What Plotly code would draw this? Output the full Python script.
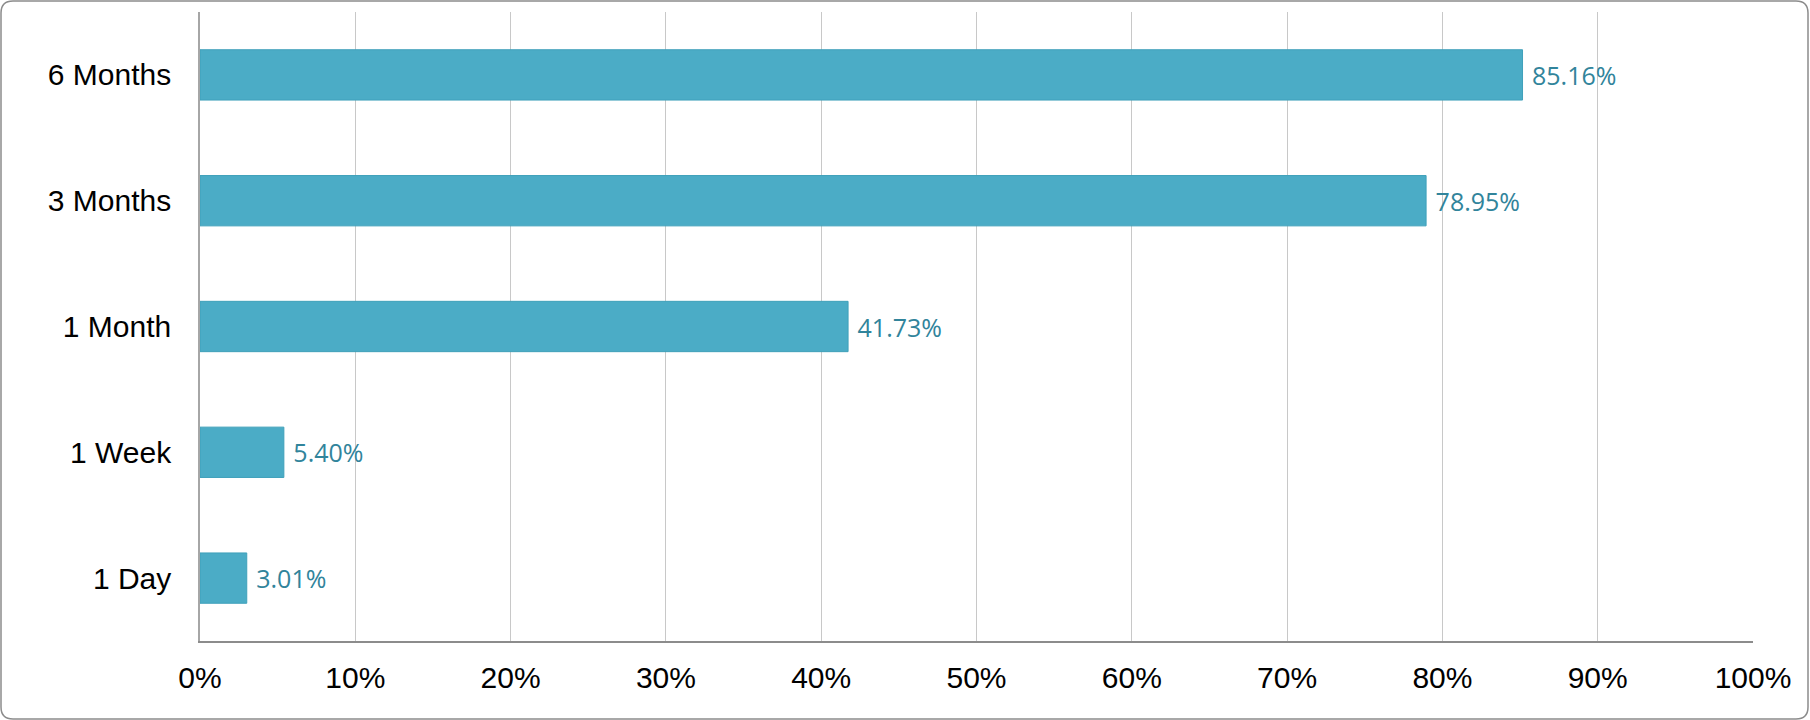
import plotly.graph_objects as go

categories = ["1 Day", "1 Week", "1 Month", "3 Months", "6 Months"]
values = [0.0301, 0.0540, 0.4173, 0.7895, 0.8516]
labels = ["3.01%", "5.40%", "41.73%", "78.95%", "85.16%"]
x_ticks = [0, 0.1, 0.2, 0.3, 0.4, 0.5, 0.6, 0.7, 0.8, 0.9, 1.0]
x_tick_labels = ["0%", "10%", "20%", "30%", "40%", "50%", "60%", "70%", "80%", "90%", "100%"]

W, H = 1810, 720
L, R, T, B = 200, 57, 12, 79
pw, ph = W - L - R, H - T - B

def px(x):
    return (x - L) / pw

def py(y):
    return (H - B - y) / ph

fig = go.Figure()
fig.add_trace(go.Bar(
    y=categories, x=values, orientation="h",
    marker=dict(color="#4BACC6", line=dict(color="#3FA0BA", width=1)),
    width=0.4,
    text=["\u00a0" + s for s in labels], textposition="outside",
    textfont=dict(family="Open Sans", size=25, color="#31849B"),
    cliponaxis=False,
    hoverinfo="skip",
))

# rounded outer border
x0, y0, x1, y1, r = 1, 1, 1808, 719, 12
path = (
    f"M {px(x0 + r)},{py(y0)} L {px(x1 - r)},{py(y0)} "
    f"Q {px(x1)},{py(y0)} {px(x1)},{py(y0 + r)} "
    f"L {px(x1)},{py(y1 - r)} Q {px(x1)},{py(y1)} {px(x1 - r)},{py(y1)} "
    f"L {px(x0 + r)},{py(y1)} Q {px(x0)},{py(y1)} {px(x0)},{py(y1 - r)} "
    f"L {px(x0)},{py(y0 + r)} Q {px(x0)},{py(y0)} {px(x0 + r)},{py(y0)} Z"
)
fig.add_shape(type="path", path=path, xref="paper", yref="paper",
              line=dict(color="#8C8C8C", width=1.5), layer="above")

fig.update_layout(
    width=W, height=H,
    margin=dict(l=L, r=R, t=T, b=B, pad=0),
    paper_bgcolor="white", plot_bgcolor="white",
    showlegend=False,
    font=dict(family="Liberation Sans, Arial", color="black"),
    xaxis=dict(
        range=[0, 1], tickvals=x_ticks, ticktext=x_tick_labels,
        showgrid=True, gridcolor="#C8C8C8", gridwidth=1,
        zeroline=False, showline=True, linecolor="#8C8C8C", linewidth=1.5,
        ticks="", ticklen=0, tickfont=dict(size=30, color="black"),
        ticklabelstandoff=9,
    ),
    yaxis=dict(
        categoryorder="array", categoryarray=categories,
        showgrid=False, zeroline=False,
        showline=True, linecolor="#A6A6A6", linewidth=1.5,
        ticks="", tickfont=dict(size=30, color="black"),
        ticklabelstandoff=21,
    ),
)

fig.write_html("out.html", config={"displayModeBar": False},
               post_script="document.body.style.margin='0';document.body.style.overflow='hidden';")
